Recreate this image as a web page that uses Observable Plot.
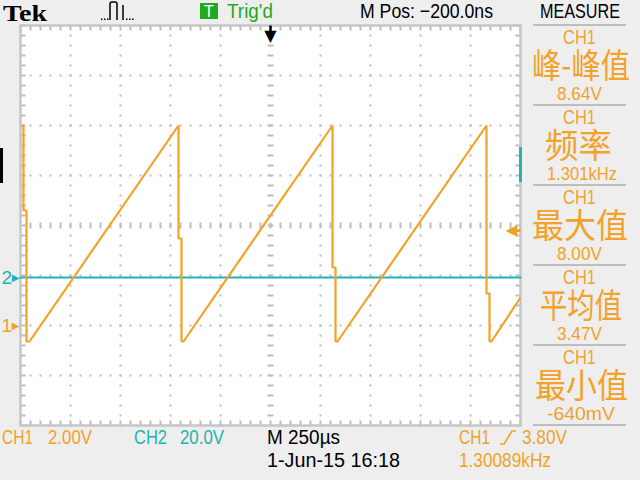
<!DOCTYPE html>
<html><head><meta charset="utf-8">
<script src="https://cdn.jsdelivr.net/npm/d3@7"></script>
<script src="https://cdn.jsdelivr.net/npm/@observablehq/plot@0.6"></script>
<style>
html,body{margin:0;padding:0;background:#eeeeee;}
#wrap{position:relative;width:640px;height:480px;overflow:hidden;background:#eeeeee;}
#wrap svg{position:absolute;left:0;top:0;}
</style></head><body><div id="wrap"></div>
<script>
const ORANGE = "#f2a228", CYAN = "#1fb3b3", GREEN = "#1faa1f", GRID = "#bcbcbc";

// CH1 sawtooth: time (µs from trigger) and volts
const ch1Time = [-1245, -1235, -1235, -1220, -1220, -1205, -460, -460, -445, -445, -435, 310, 310, 325, 325, 335, 1080, 1080, 1095, 1095, 1105, 1250];
const ch1Volt = [8.0, 8.0, 4.6, 4.6, -0.64, -0.64, 8.0, 3.48, 3.48, -0.64, -0.64, 8.0, 2.32, 2.32, -0.64, -0.64, 8.0, 1.28, 1.28, -0.64, -0.64, 1.12];
// CH2: flat line near 0 V
const ch2Time = [-1250, 1250];
const ch2Volt = [0, 0];

const timePerDiv = 250;       // µs/div
const ch1VoltsPerDiv = 2.0;   // V/div
const ch2VoltsPerDiv = 20.0;  // V/div
const ch1Position = -2.0;     // divisions
const ch2Position = -1.04;    // divisions
const triggerLevel = 3.80;    // V (CH1)

const measureChannels = ["CH1", "CH1", "CH1", "CH1", "CH1"];
const measureNames = ["峰-峰值", "频率", "最大值", "平均值", "最小值"];
const measureValues = ["8.64V", "1.301kHz", "8.00V", "3.47V", "-640mV"];

const ch1 = ch1Time.map((t, i) => ({t, v: ch1Volt[i]}));
const ch2 = ch2Time.map((t, i) => ({t, v: ch2Volt[i]}));

const xMin = -5 * timePerDiv, xMax = 5 * timePerDiv;
const minorX = d3.range(-25, 26).map(k => k * timePerDiv / 5);
const minorY = d3.range(-20, 21).map(k => k / 5);
const majorX = [-4, -3, -2, -1, 1, 2, 3, 4].map(k => k * timePerDiv);
const majorY = [-3, -2, -1, 1, 2, 3];

const gridDots = [];
for (const x of majorX) for (const y of minorY) gridDots.push({x, y});
for (const y of majorY) for (const x of minorX) gridDots.push({x, y});

const inner = (arr, lo, hi) => arr.filter(v => v > lo + 1e-9 && v < hi - 1e-9);
const px = timePerDiv / 50; // µs per pixel
const pyd = 1 / 50;         // div per pixel

const plot = Plot.plot({
  width: 640, height: 480,
  marginLeft: 20, marginRight: 120, marginTop: 25, marginBottom: 55,
  x: {domain: [xMin, xMax], axis: null},
  y: {domain: [-4, 4], axis: null},
  style: {background: "transparent", overflow: "visible"},
  marks: [
    Plot.frame({fill: "white", stroke: null}),
    Plot.dot(gridDots, {x: "x", y: "y", symbol: "square", r: 1.13, fill: GRID, stroke: null}),
    // center line dashes
    Plot.link(inner(minorX, xMin, xMax), {x1: d => d, x2: d => d, y1: -3 * pyd, y2: 3 * pyd, stroke: GRID, strokeWidth: 2, strokeLinecap: "butt"}),
    Plot.link(inner(minorY, -4, 4), {x1: -3 * px, x2: 3 * px, y1: d => d, y2: d => d, stroke: GRID, strokeWidth: 2, strokeLinecap: "butt"}),
    // border ticks
    Plot.link(minorX, {x1: d => d, x2: d => d, y1: 4, y2: 4 - 5 * pyd, stroke: GRID, strokeWidth: 2, strokeLinecap: "butt"}),
    Plot.link(minorX, {x1: d => d, x2: d => d, y1: -4, y2: -4 + 5 * pyd, stroke: GRID, strokeWidth: 2, strokeLinecap: "butt"}),
    Plot.link(minorY, {x1: xMin, x2: xMin + 5 * px, y1: d => d, y2: d => d, stroke: GRID, strokeWidth: 2, strokeLinecap: "butt"}),
    Plot.link(minorY, {x1: xMax, x2: xMax - 5 * px, y1: d => d, y2: d => d, stroke: GRID, strokeWidth: 2, strokeLinecap: "butt"}),
    Plot.frame({stroke: "#c6c6c6", strokeWidth: 2.5}),
    // waveforms
    Plot.line(ch2, {x: "t", y: d => d.v / ch2VoltsPerDiv + ch2Position, stroke: CYAN, strokeWidth: 2.2}),
    Plot.line(ch1, {x: "t", y: d => d.v / ch1VoltsPerDiv + ch1Position, stroke: ORANGE, strokeWidth: 2.2, strokeLinejoin: "miter", strokeLinecap: "butt"}),
    // ground markers
    Plot.text([ch2Position], {frameAnchor: "left", y: d => d, text: () => "2", dx: -19, textAnchor: "start", fill: CYAN, fontSize: 19, fontFamily: "Liberation Sans"}),
    Plot.text([ch2Position], {frameAnchor: "left", y: d => d, text: () => "▶", dx: -5, textAnchor: "middle", fill: CYAN, fontSize: 10, fontFamily: "DejaVu Sans"}),
    Plot.text([ch1Position], {frameAnchor: "left", y: d => d, text: () => "1", dx: -19, textAnchor: "start", fill: ORANGE, fontSize: 19, fontFamily: "Liberation Sans"}),
    Plot.text([ch1Position], {frameAnchor: "left", y: d => d, text: () => "▶", dx: -5, textAnchor: "middle", fill: ORANGE, fontSize: 10, fontFamily: "DejaVu Sans"}),
    // trigger level marker
    Plot.text([triggerLevel], {frameAnchor: "right", y: d => d / ch1VoltsPerDiv + ch1Position, text: () => "◀", dx: -9, textAnchor: "middle", fill: ORANGE, fontSize: 15, fontFamily: "DejaVu Sans"}),
    Plot.link([triggerLevel], {x1: xMax - 8 * px, x2: xMax, y1: d => d / ch1VoltsPerDiv + ch1Position, y2: d => d / ch1VoltsPerDiv + ch1Position, stroke: ORANGE, strokeWidth: 3}),
    // trigger position marker
    Plot.link([0], {x1: d => d, x2: d => d, y1: 4, y2: 4 - 14 * pyd, stroke: "black", strokeWidth: 2.5, strokeLinecap: "butt"}),
    Plot.text([0], {x: d => d, frameAnchor: "top", lineAnchor: "middle", dy: 10, text: () => "▼", fill: "black", fontSize: 16, fontFamily: "DejaVu Sans"})
  ]
});
document.getElementById("wrap").appendChild(plot);

// overlay: instrument readouts
const ov = d3.select("#wrap").append("svg").attr("width", 640).attr("height", 480).style("pointer-events", "none");
const SANS = "Liberation Sans, Arial, sans-serif";
const CJK = "Noto Sans CJK SC, sans-serif";
const fitted = [];
function fit(item) {
  const nat = item.node.getComputedTextLength();
  const sx = nat > 0 ? item.w / nat : 1;
  item.node.setAttribute("transform", `translate(${item.x},${item.y}) scale(${sx},1)`);
}
function txt(t, x, y, fs, w, fill, ff = SANS, fw = "normal") {
  const sel = ov.append("text").attr("x", 0).attr("y", 0).attr("font-size", fs).attr("font-family", ff)
    .attr("font-weight", fw).attr("fill", fill).text(t);
  const item = {node: sel.node(), x, y, w};
  fitted.push(item);
  fit(item);
}
// top bar
txt("Tek", 3, 21, 24, 44, "#000", "Liberation Serif, serif", "bold");
ov.append("path").attr("d", "M110,20 V4 Q110,2 112,2 H115 Q117,2 117,4 V20 M123,5 V20").attr("fill", "none").attr("stroke", "#000").attr("stroke-width", 1.5);
for (const dx of [101, 104, 107, 126, 129, 132]) ov.append("rect").attr("x", dx).attr("y", 18.5).attr("width", 1.5).attr("height", 1.5).attr("fill", "#000");
ov.append("rect").attr("x", 200).attr("y", 3).attr("width", 18).attr("height", 16).attr("fill", GREEN);
ov.append("text").attr("x", 209).attr("y", 17).attr("text-anchor", "middle").attr("font-size", 16).attr("font-family", SANS).attr("fill", "white").text("T");
txt("Trig'd", 227, 18, 21, 46, GREEN);
txt("M Pos: −200.0ns", 360, 18, 21, 133, "#000");
txt("MEASURE", 540, 18, 21, 80, "#000");

// measure panel
const nameBox = [[532, 98], [545, 67], [532, 96], [540, 82], [535, 93]];
const valBox = [[557, 45], [547, 70], [557, 45], [557, 45], [547, 68]];
for (let i = 0; i < 6; i++) {
  ov.append("rect").attr("x", 533).attr("y", 24 + 80 * i).attr("width", 93).attr("height", 2).attr("fill", "#bdbdbd");
}
measureNames.forEach((name, i) => {
  const S = 25 + 80 * i;
  txt(measureChannels[i], 563, S + 19, 21, 33, ORANGE);
  txt(name, nameBox[i][0], S + 53, 34, nameBox[i][1], ORANGE, CJK);
  txt(measureValues[i], valBox[i][0], S + 75, 19, valBox[i][1], ORANGE);
});

// bottom readouts
txt("CH1", 2, 444, 19.5, 31, ORANGE);
txt("2.00V", 48, 444, 19.5, 44, ORANGE);
txt("CH2", 134, 444, 19.5, 33, CYAN);
txt("20.0V", 180, 444, 19.5, 44, CYAN);
txt("M 250µs", 267, 444, 19.5, 73, "#000");
txt("CH1", 459, 444, 19.5, 31, ORANGE);
ov.append("path").attr("d", "M500,444 H504 L512,431 H516").attr("fill", "none").attr("stroke", ORANGE).attr("stroke-width", 1.6);
txt("3.80V", 522, 444, 19.5, 45, ORANGE);
txt("1-Jun-15 16:18", 267, 467, 19.5, 133, "#000");
txt("1.30089kHz", 459, 467, 19.5, 92, ORANGE);

// edge indicators
ov.append("rect").attr("x", 0).attr("y", 148).attr("width", 3).attr("height", 35).attr("fill", "#000");
ov.append("rect").attr("x", 519).attr("y", 147).attr("width", 3).attr("height", 35).attr("fill", CYAN);

if (document.fonts && document.fonts.ready) document.fonts.ready.then(() => fitted.forEach(fit));
</script></body></html>
